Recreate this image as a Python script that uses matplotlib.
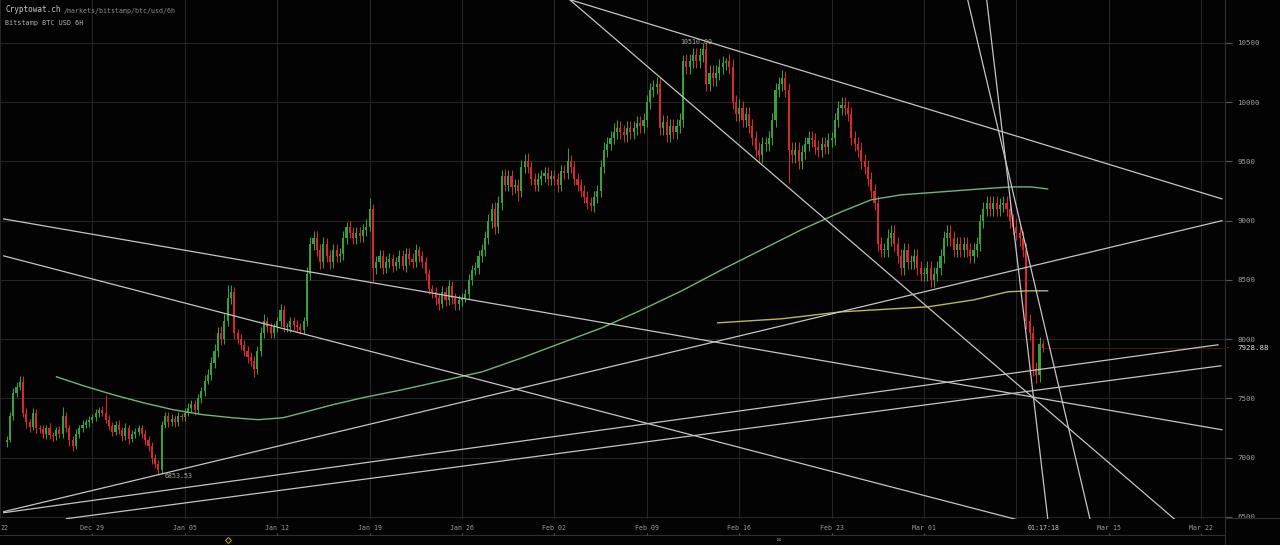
import matplotlib
matplotlib.use("Agg")
import matplotlib.pyplot as plt
import matplotlib.dates as mdates
import numpy as np
from datetime import datetime, timedelta

# 6H candles, Bitstamp BTC/USD, Dec 22 2019 12:00 -> Mar 10 2020 00:00
start = datetime(2019, 12, 22, 12)
step = timedelta(hours=6)
base = datetime(2019, 12, 29)   # day offsets below are relative to this
first_open = 7130

closes = [
    7150, 7350,                    # Dec 22
    7550, 7600, 7640, 7380,        # Dec 23
    7300, 7260, 7380, 7250,
    7240, 7200, 7250, 7190,
    7180, 7230, 7200, 7350,
    7250, 7150, 7100, 7200,
    7250, 7280, 7300, 7320,
    7340, 7380, 7400, 7380,        # Dec 29
    7320, 7270, 7220, 7280,
    7230, 7180, 7250, 7160,
    7200, 7220, 7250, 7200,        # Jan 1
    7150, 7100, 7000, 6950,
    6900, 7280, 7350, 7300,
    7330, 7300, 7350, 7340,
    7380, 7420, 7450, 7400,        # Jan 5
    7500, 7560, 7650, 7700,
    7800, 7900, 8050, 8000,
    8150, 8350, 8400, 8050,
    8000, 7950, 7900, 7850,
    7820, 7750, 7900, 8050,
    8150, 8100, 8050, 8100,
    8150, 8250, 8100, 8100,        # Jan 12
    8150, 8120, 8100, 8080,
    8150, 8550, 8800, 8850,
    8750, 8650, 8800, 8700,
    8650, 8750, 8700, 8720,
    8850, 8950, 8900, 8850,
    8900, 8870, 8920, 8950,
    9100, 8600, 8650, 8700,        # Jan 19
    8600, 8650, 8680, 8620,
    8650, 8700, 8620, 8720,
    8680, 8650, 8750, 8700,
    8650, 8550, 8420, 8400,
    8350, 8300, 8400, 8330,
    8450, 8350, 8300, 8330,
    8350, 8380, 8500, 8580,        # Jan 26
    8600, 8700, 8750, 8850,
    9000, 9100, 8950, 9150,
    9380, 9300, 9380, 9280,
    9300, 9250, 9450, 9500,
    9450, 9350, 9300, 9350,
    9380, 9400, 9350, 9380,        # Feb 1
    9350, 9300, 9420, 9400,
    9500, 9450, 9350, 9300,
    9250, 9200, 9150, 9120,
    9200, 9250, 9450, 9600,
    9650, 9700, 9750, 9780,
    9750, 9720, 9780, 9750,
    9780, 9820, 9800, 9850,
    10000, 10100, 10130, 10150,    # Feb 9
    9780, 9830, 9720, 9800,
    9750, 9800, 9850, 10350,
    10300, 10350, 10400, 10350,
    10400, 10450, 10150, 10250,
    10200, 10250, 10300, 10330,
    10350, 10300, 10000, 9900,
    9950, 9850, 9900, 9800,        # Feb 16
    9700, 9600, 9550, 9650,
    9650, 9700, 9850, 10100,
    10150, 10200, 10100, 9600,
    9550, 9600, 9500, 9580,
    9650, 9700, 9680, 9620,
    9600, 9650, 9620, 9680,
    9700, 9850, 9950, 9980,        # Feb 23
    9950, 9900, 9700, 9650,
    9600, 9500, 9450, 9350,
    9250, 9150, 8800, 8750,
    8750, 8850, 8900, 8800,
    8700, 8600, 8750, 8650,
    8650, 8700, 8600, 8550,
    8550, 8600, 8500, 8550,        # Mar 1
    8600, 8700, 8850, 8900,
    8850, 8750, 8800, 8750,
    8800, 8750, 8700, 8750,
    8800, 9000, 9100, 9150,
    9100, 9150, 9100, 9130,
    9150, 9100, 9000, 8950,
    8900, 8850, 8750, 8150,        # Mar 8
    8050, 7750, 7700, 7960,
    7928.88,                       # Mar 10 00:00
]

# wick length above the body / below the body, USD
wick_hi = [
    30, 40,                        # Dec 22
    40, 40, 50, 50,
    40, 30, 40, 30,
    30, 40, 30, 40,
    30, 30, 40, 80,
    40, 30, 30, 40,
    30, 40, 30, 30,
    30, 30, 30, 40,                # Dec 29
    150, 40, 30, 30,
    40, 30, 40, 30,
    30, 30, 30, 30,                # Jan 1
    30, 30, 30, 30,
    30, 30, 40, 40,
    40, 30, 40, 30,
    40, 40, 40, 40,                # Jan 5
    40, 40, 50, 50,
    50, 60, 50, 60,
    60, 110, 60, 40,
    40, 40, 40, 40,
    40, 40, 40, 50,
    60, 40, 40, 40,
    40, 50, 40, 40,                # Jan 12
    40, 40, 40, 40,
    40, 60, 60, 60,
    60, 50, 60, 50,
    50, 50, 50, 50,
    60, 40, 50, 50,
    50, 50, 50, 60,
    90, 40, 50, 50,                # Jan 19
    50, 50, 50, 40,
    40, 50, 50, 50,
    50, 50, 50, 40,
    40, 40, 40, 40,
    40, 40, 50, 40,
    50, 40, 40, 40,
    40, 40, 50, 50,                # Jan 26
    50, 50, 50, 60,
    60, 50, 60, 60,
    50, 60, 50, 50,
    50, 50, 60, 60,
    70, 50, 50, 50,
    50, 50, 50, 50,                # Feb 1
    50, 50, 50, 50,
    110, 50, 50, 50,
    50, 50, 50, 50,
    50, 50, 60, 60,
    60, 60, 70, 70,
    60, 60, 60, 60,
    60, 60, 60, 60,
    60, 60, 60, 60,                # Feb 9
    60, 60, 60, 60,
    60, 60, 60, 50,
    60, 60, 60, 60,
    60, 50.5, 60, 60,
    60, 60, 60, 60,
    20, 60, 60, 60,
    80, 60, 60, 60,                # Feb 16
    60, 60, 60, 60,
    60, 60, 60, 60,
    60, 70, 60, 60,
    60, 60, 60, 60,
    60, 60, 60, 60,
    60, 60, 60, 60,
    50, 60, 60, 60,                # Feb 23
    60, 60, 60, 60,
    60, 60, 60, 60,
    60, 60, 60, 60,
    60, 80, 60, 60,
    60, 60, 60, 60,
    60, 60, 60, 60,
    60, 60, 60, 60,                # Mar 1
    60, 60, 60, 60,
    60, 60, 60, 60,
    60, 60, 60, 60,
    60, 60, 60, 60,
    60, 60, 60, 60,
    60, 60, 60, 60,
    60, 60, 60, 60,                # Mar 8
    60, 60, 60, 60,
    30,                            # Mar 10
]

wick_lo = [
    40, 20,                        # Dec 22
    30, 40, 30, 40,
    50, 40, 30, 40,
    30, 30, 40, 30,
    40, 30, 30, 30,
    30, 50, 40, 30,
    30, 30, 30, 40,
    30, 30, 40, 30,                # Dec 29
    30, 40, 40, 30,
    30, 40, 30, 40,
    30, 30, 30, 30,                # Jan 1
    40, 40, 50, 40,
    46.47, 40, 30, 40,
    30, 40, 30, 30,
    30, 30, 30, 40,                # Jan 5
    30, 40, 40, 30,
    40, 40, 50, 50,
    40, 40, 50, 50,
    40, 40, 40, 50,
    50, 70, 40, 40,
    40, 40, 40, 40,
    40, 40, 40, 40,                # Jan 12
    40, 40, 40, 40,
    40, 40, 50, 50,
    50, 60, 50, 50,
    60, 50, 50, 50,
    50, 50, 50, 50,
    50, 50, 50, 50,
    40, 120, 50, 50,               # Jan 19
    50, 40, 50, 50,
    40, 50, 40, 50,
    50, 50, 40, 50,
    50, 50, 40, 50,
    60, 50, 40, 50,
    40, 50, 50, 50,
    50, 40, 40, 40,                # Jan 26
    40, 50, 50, 50,
    50, 60, 60, 50,
    60, 50, 50, 60,
    50, 80, 50, 50,
    50, 50, 50, 50,
    50, 50, 50, 50,                # Feb 1
    50, 60, 50, 50,
    50, 50, 50, 50,
    50, 50, 50, 40,
    50, 50, 50, 50,
    60, 50, 50, 60,
    60, 60, 60, 60,
    60, 60, 60, 60,
    60, 60, 60, 60,                # Feb 9
    60, 60, 60, 60,
    60, 60, 60, 60,
    60, 60, 60, 60,
    60, 60, 60, 60,
    60, 60, 60, 60,
    60, 60, 60, 60,
    60, 60, 60, 60,                # Feb 16
    60, 60, 60, 60,
    60, 60, 60, 60,
    60, 60, 60, 280,
    60, 60, 60, 60,
    60, 60, 60, 60,
    60, 60, 60, 60,
    60, 60, 60, 60,                # Feb 23
    60, 60, 60, 60,
    60, 60, 60, 60,
    60, 60, 60, 60,
    60, 60, 60, 60,
    60, 60, 60, 60,
    60, 60, 60, 60,
    60, 60, 60, 60,                # Mar 1
    60, 60, 60, 60,
    60, 60, 60, 60,
    60, 60, 60, 60,
    60, 60, 60, 60,
    60, 60, 60, 60,
    60, 60, 60, 60,
    60, 60, 60, 60,                # Mar 8
    60, 60, 70, 60,
    40,                            # Mar 10
]

# moving averages (day offset from Dec 29, price)
ma_green_days = [-2.72, -0.68, 1.59, 3.85, 6.12, 8.38, 10.65, 12.54, 14.43, 15.94,
                 18.20, 20.47, 23.49, 26.51, 29.53, 32.55, 35.57, 38.60, 41.62, 44.64,
                 47.66, 50.68, 53.70, 56.72, 58.99, 61.25, 64.27, 67.30, 69.56, 71.07,
                 72.36]
ma_green = [7683, 7607, 7531, 7464, 7405, 7363, 7337, 7321, 7337, 7380,
            7447, 7506, 7574, 7649, 7725, 7843, 7970, 8096, 8248, 8408,
            8585, 8754, 8923, 9074, 9176, 9218, 9243, 9268, 9285, 9285,
            9268]
ma_yellow_days = [47.36, 52.19, 56.72, 63.29, 66.77, 69.34, 70.85, 72.36]
ma_yellow = [8138, 8172, 8231, 8273, 8332, 8400, 8408, 8408]

# drawn trend lines: (day0, price0, day1, price1)
trend_lines = [
    (36.25, 10862, 85.57, 9184),
    (36.18, 10862, 82.10, 6470),
    (-6.72, 9015, 85.57, 7236),
    (-6.72, 8703, 70.30, 6470),
    (-6.72, 6545, 85.57, 9000),
    (-6.72, 6536, 85.27, 7953),
    (-1.96, 6486, 85.50, 7776),
    (67.75, 10862, 72.40, 6460),
    (66.31, 10862, 75.62, 6460),
]

week_days = [-7, 0, 7, 14, 21, 28, 35, 42, 49, 56, 63, 70, 77, 84]
y_ticks = [6500, 7000, 7500, 8000, 8500, 9000, 9500, 10000, 10500]
last_price = 7928.88
now = datetime(2020, 3, 10, 1, 17, 18)

BG = "#030303"
GREEN = "#37a03b"
RED = "#d42a2a"
GRID = "#242424"
MONO = "DejaVu Sans Mono"

W, H = 1280, 545
fig = plt.figure(figsize=(W / 100, H / 100), dpi=100, facecolor=BG)
plot_right = 1225 / W
plot_bottom = (H - 519) / H
ax = fig.add_axes([0, plot_bottom, plot_right, 1 - plot_bottom], facecolor=BG)

b = mdates.date2num(base)
n = len(closes)
t = mdates.date2num([start + i * step for i in range(n)])
c = np.array(closes, dtype=float)
o = np.r_[first_open, c[:-1]]
hi = np.maximum(o, c) + np.array(wick_hi)
lo = np.minimum(o, c) - np.array(wick_lo)
col = np.where(c >= o, GREEN, RED)

ax.vlines(t, lo, hi, colors=col, lw=0.75, zorder=3)
ax.bar(t, np.maximum(np.abs(c - o), 9), bottom=np.minimum(o, c), width=0.16,
       color=col, linewidth=0, zorder=4)

ax.plot(b + np.array(ma_green_days), ma_green, color="#6fb47c", lw=1.0, zorder=5)
ax.plot(b + np.array(ma_yellow_days), ma_yellow, color="#b8b85a", lw=1.0, zorder=5)

for d0, p0, d1, p1 in trend_lines:
    ax.plot([b + d0, b + d1], [p0, p1], color="#c4c4c4", lw=0.9, zorder=6)

# current price line
ax.hlines(last_price, t[-1], b + 90, color="#4a1212", lw=0.8, zorder=2)

ax.set_xlim(b - 6.722, b + 85.8)
ax.set_ylim(6483, 10862)
ax.set_xticks([b + d for d in week_days])
ax.set_yticks(y_ticks)
ax.grid(True, color=GRID, lw=0.8)
ax.set_axisbelow(True)
ax.tick_params(axis="x", length=0, labelbottom=False)
ax.yaxis.tick_right()
ax.tick_params(axis="y", direction="out", length=5, width=0.8, color="#555555",
               labelsize=5.4, labelcolor="#9a9a9a", pad=4)
for lab in ax.get_yticklabels():
    lab.set_family(MONO)
for s in ["top", "left", "bottom"]:
    ax.spines[s].set_visible(False)
ax.spines["right"].set_color("#2e2e2e")
ax.spines["right"].set_linewidth(0.8)

# extreme labels
i_hi = int(np.argmax(hi))
ax.annotate(f"{hi[i_hi]:.2f}", xy=(t[i_hi], hi[i_hi]), xytext=(6, 0),
            textcoords="offset pixels", ha="right", va="center",
            fontsize=4.8, color="#a8a8a8", family=MONO, zorder=7)
i_lo = int(np.argmin(lo))
ax.annotate(f"{lo[i_lo]:.2f}", xy=(t[i_lo], lo[i_lo]), xytext=(6, -1),
            textcoords="offset pixels", ha="left", va="center",
            fontsize=4.8, color="#a8a8a8", family=MONO, zorder=7)

# last price tag on the price axis
ax.annotate(f"{last_price:.2f}", xy=(1, last_price), xycoords=("axes fraction", "data"),
            xytext=(12, 0), textcoords="offset pixels", ha="left", va="center",
            fontsize=5.4, color="#dddddd", family=MONO, annotation_clip=False)
ax.annotate("", xy=(1, last_price), xycoords=("axes fraction", "data"),
            xytext=(6, 0), textcoords="offset pixels",
            arrowprops=dict(arrowstyle="-", color=RED, lw=0.8), annotation_clip=False)

# time strip under the chart
axt = fig.add_axes([0, 0, plot_right, plot_bottom], facecolor=BG)
axt.set_xlim(ax.get_xlim())
axt.set_ylim(0, H * plot_bottom)
axt.axis("off")
axt.axhline(10, color="#2e2e2e", lw=0.8)
for d in week_days:
    if d == 70:
        continue
    label = (base + timedelta(days=d)).strftime("%b %d")
    if d < 0:
        # first week label sits off the left edge, only its day shows
        axt.text(0, 17, label.split()[1], ha="left", va="center", fontsize=4.8,
                 color="#9a9a9a", family=MONO, transform=axt.get_yaxis_transform())
        continue
    axt.text(b + d, 17, label, ha="center", va="center", fontsize=4.8,
             color="#9a9a9a", family=MONO)
    axt.vlines(b + d, 10, 12, color="#555555", lw=0.8)
axt.text(mdates.date2num(now), 17, now.strftime("%H:%M:%S"), ha="center", va="center",
         fontsize=4.8, color="#c8c8c8", family=MONO)
axt.plot(b + 10.27, 5, marker="D", ms=3, mfc="none", mec="#c9a20a", mew=0.7)
axt.text(b + 51.96, 5, "\u221e", ha="center", va="center", fontsize=5, color="#8a8a8a")

fig.add_artist(plt.Line2D([plot_right, 1], [plot_bottom + 1 / H] * 2,
                          color="#2e2e2e", lw=0.8))
fig.add_artist(plt.Line2D([plot_right, plot_right], [0, plot_bottom],
                          color="#2e2e2e", lw=0.8))

# header
fig.text(5 / W, 1 - 10 / H, "Cryptowat.ch", fontsize=5.5, color="#c8c8c8",
         family=MONO, va="center")
fig.text(64 / W, 1 - 10.5 / H, "/markets/bitstamp/btc/usd/6h", fontsize=4.8,
         color="#8c8c8c", family=MONO, va="center")
fig.text(5 / W, 1 - 23 / H, "Bitstamp BTC USD 6H", fontsize=4.9, color="#b4b4b4",
         family=MONO, va="center")

fig.savefig("out.png", dpi=100, facecolor=BG)
